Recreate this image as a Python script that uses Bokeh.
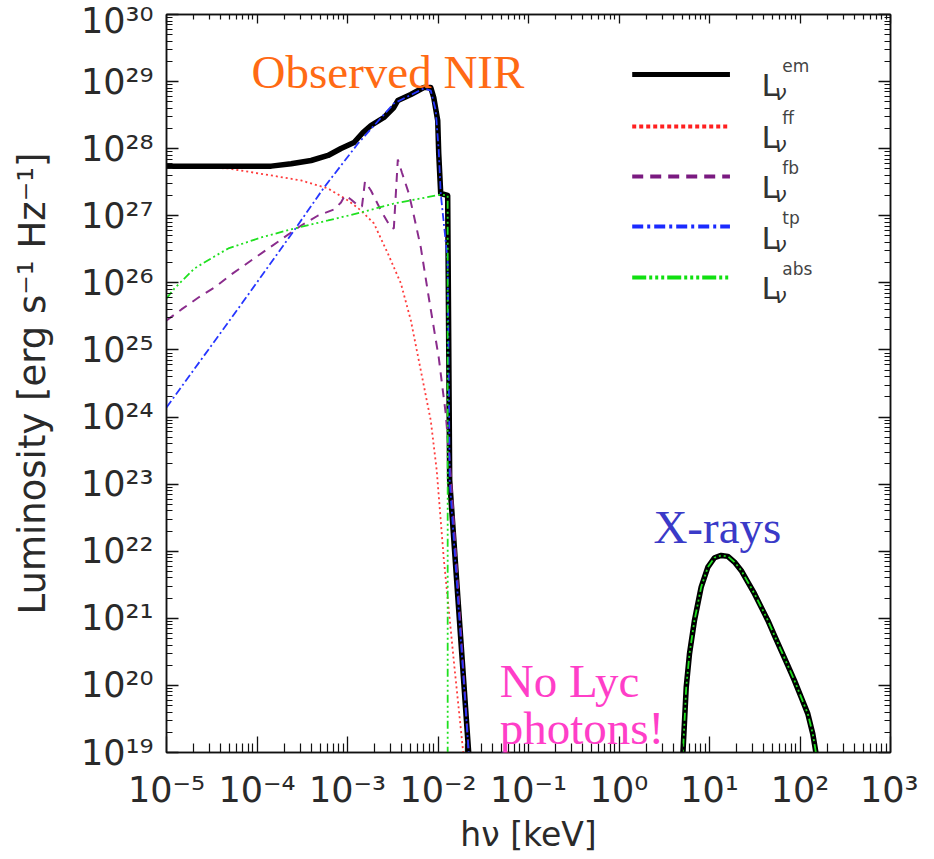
import math
from bokeh.plotting import figure
from bokeh.models import FixedTicker, LogAxis, Label, CustomJSTickFormatter, Range1d
from bokeh.embed import file_html
from bokeh.resources import INLINE

# ---------------- data (log10 values) ----------------
X_TICK_EXPONENTS = [-5, -4, -3, -2, -1, 0, 1, 2, 3]
X_TICK_LABELS = ["10⁻⁵", "10⁻⁴", "10⁻³", "10⁻²", "10⁻¹", "10⁰", "10¹", "10²", "10³"]
Y_TICK_EXPONENTS = [19, 20, 21, 22, 23, 24, 25, 26, 27, 28, 29, 30]
Y_TICK_LABELS = ["10¹⁹", "10²⁰", "10²¹", "10²²", "10²³", "10²⁴", "10²⁵",
                 "10²⁶", "10²⁷", "10²⁸", "10²⁹", "10³⁰"]

# L_nu^em (NIR part)
EM_NIR_LOGX = [-5.0, -3.843, -3.623, -3.402, -3.215, -3.072, -2.928, -2.829, -2.741,
               -2.598, -2.488, -2.444, -2.300, -2.157, -2.080, -2.047, -2.003, -1.992,
               -1.970, -1.893, -1.871, -1.661, -1.645]
EM_NIR_LOGY = [27.74, 27.74, 27.775, 27.824, 27.899, 28.003, 28.092, 28.241, 28.346,
               28.465, 28.614, 28.718, 28.808, 28.912, 28.912, 28.763, 28.420, 27.928,
               27.332, 27.303, 23.055, 19.0, 18.7]

# X-ray bump (L_nu^em and L_nu^abs coincide)
XRAY_LOGX = [0.700, 0.706, 0.743, 0.779, 0.834, 0.908, 0.982, 1.055, 1.129, 1.203,
             1.276, 1.350, 1.424, 1.497, 1.571, 1.645, 1.717, 1.791, 1.865, 1.938,
             2.012, 2.086, 2.141, 2.178, 2.215]
XRAY_LOGY = [18.7, 18.982, 19.975, 20.472, 20.969, 21.465, 21.763, 21.903, 21.937,
             21.923, 21.838, 21.714, 21.540, 21.367, 21.167, 20.969, 20.745, 20.522,
             20.298, 20.075, 19.826, 19.579, 19.280, 18.982, 18.7]

# L_nu^ff
FF_LOGX = [-5.0, -4.317, -3.843, -3.512, -3.215, -2.994, -2.851, -2.708, -2.554,
           -2.410, -2.300, -2.190, -2.080, -2.014, -1.937, -1.826, -1.727, -1.700]
FF_LOGY = [27.74, 27.705, 27.601, 27.526, 27.407, 27.228, 27.079, 26.885, 26.438,
           25.991, 25.440, 24.694, 23.949, 23.204, 21.90, 20.373, 19.076, 18.7]

# L_nu^fb
FB_LOGX = [-5.0, -4.835, -4.647, -4.471, -4.284, -3.986, -3.700, -3.512, -3.325,
           -3.149, -3.072, -3.028, -2.961, -2.873, -2.840, -2.807, -2.741, -2.631,
           -2.521, -2.488, -2.444, -2.399, -2.322, -2.267, -2.190, -2.102, -1.992,
           -1.915, -1.860, -1.661, -1.645]
FB_LOGY = [25.440, 25.604, 25.782, 25.931, 26.125, 26.408, 26.677, 26.855, 27.004,
           27.094, 27.198, 27.303, 27.243, 27.139, 27.139, 27.511, 27.377, 27.079,
           26.826, 26.811, 27.839, 27.645, 27.332, 27.004, 26.528, 25.782, 24.888,
           24.054, 23.159, 19.0, 18.7]

# L_nu^tp
TP_LOGX = [-5.0, -4.207, -3.590, -3.259, -2.884, -2.488, -2.157, -2.080, -2.025,
           -1.992, -1.970, -1.893, -1.871, -1.661, -1.645]
TP_LOGY = [24.143, 25.618, 26.781, 27.422, 28.077, 28.674, 28.897, 28.867, 28.569,
           27.973, 27.332, 26.334, 23.055, 19.0, 18.7]

# L_nu^abs (NIR part)
ABS_NIR_LOGX = [-5.0, -4.912, -4.835, -4.691, -4.471, -4.317, -3.953, -3.590, -3.215,
                -2.851, -2.488, -2.190, -1.970, -1.893, -1.893]
ABS_NIR_LOGY = [25.768, 25.917, 26.021, 26.215, 26.393, 26.513, 26.677, 26.811, 26.930,
                27.049, 27.183, 27.258, 27.317, 27.303, 18.7]

LEGEND_KEYS = ["em", "ff", "fb", "tp", "abs"]

ANNOTATIONS = ["Observed NIR", "X-rays", "No Lyc", "photons!"]


# ---------------- helpers ----------------
def lin(vals):
    return [10.0 ** v if v == v else float("nan") for v in vals]


NAN = float("nan")
em_x = lin(EM_NIR_LOGX + [NAN] + XRAY_LOGX)
em_y = lin(EM_NIR_LOGY + [NAN] + XRAY_LOGY)
abs_x = lin(ABS_NIR_LOGX + [NAN] + XRAY_LOGX)
abs_y = lin(ABS_NIR_LOGY + [NAN] + XRAY_LOGY)

AX_FONT = "DejaVu Sans"
TXT_COL = "#2a2a2a"

p = figure(
    x_axis_type="log", y_axis_type="log",
    x_range=Range1d(10.0 ** X_TICK_EXPONENTS[0], 10.0 ** X_TICK_EXPONENTS[-1]),
    y_range=Range1d(10.0 ** Y_TICK_EXPONENTS[0], 10.0 ** Y_TICK_EXPONENTS[-1]),
    frame_width=724, frame_height=738,
    min_border_left=166, min_border_right=28, min_border_top=14, min_border_bottom=91,
    output_backend="svg", toolbar_location=None,
)
p.xgrid.visible = False
p.ygrid.visible = False
p.outline_line_color = "#111111"
p.outline_line_width = 1.5
p.background_fill_color = "white"
p.border_fill_color = "white"

x_major = [10.0 ** e for e in X_TICK_EXPONENTS]
x_minor = [m * 10.0 ** e for e in X_TICK_EXPONENTS[:-1] for m in range(2, 10)]
y_major = [10.0 ** e for e in Y_TICK_EXPONENTS]
y_minor = [m * 10.0 ** e for e in Y_TICK_EXPONENTS[:-1] for m in range(2, 10)]

fmt_code = ("const i = Math.round(Math.log10(tick)) - first;"
            "return (i >= 0 && i < labels.length) ? labels[i] : '';")
x_fmt = CustomJSTickFormatter(args=dict(labels=X_TICK_LABELS, first=X_TICK_EXPONENTS[0]), code=fmt_code)
y_fmt = CustomJSTickFormatter(args=dict(labels=Y_TICK_LABELS, first=Y_TICK_EXPONENTS[0]), code=fmt_code)
blank_fmt = CustomJSTickFormatter(code="return '';")


def style_axis(ax, major_in, minor_in):
    ax.major_tick_in = major_in
    ax.major_tick_out = 0
    ax.minor_tick_in = minor_in
    ax.minor_tick_out = 0
    ax.axis_line_color = "#111111"
    ax.axis_line_width = 1.5
    ax.major_tick_line_color = "#111111"
    ax.minor_tick_line_color = "#111111"
    ax.major_tick_line_width = 1.3
    ax.minor_tick_line_width = 1.2


xax = p.xaxis[0]
xax.ticker = FixedTicker(ticks=x_major, minor_ticks=x_minor)
xax.formatter = x_fmt
style_axis(xax, 16, 9)
xax.major_label_text_font = AX_FONT
xax.major_label_text_font_size = "35px"
xax.major_label_text_color = TXT_COL
xax.major_label_standoff = 17
xax.axis_label = "hν [keV]"
xax.axis_label_text_font = AX_FONT
xax.axis_label_text_font_size = "33px"
xax.axis_label_text_font_style = "normal"
xax.axis_label_text_color = TXT_COL
xax.axis_label_standoff = 2

yax = p.yaxis[0]
yax.ticker = FixedTicker(ticks=y_major, minor_ticks=y_minor)
yax.formatter = y_fmt
style_axis(yax, 12, 6)
yax.major_label_text_font = AX_FONT
yax.major_label_text_font_size = "35px"
yax.major_label_text_color = TXT_COL
yax.major_label_standoff = 13
yax.axis_label = "Luminosity [erg s⁻¹ Hz⁻¹]"
yax.axis_label_text_font = AX_FONT
yax.axis_label_text_font_size = "37px"
yax.axis_label_text_font_style = "normal"
yax.axis_label_text_color = TXT_COL
yax.axis_label_standoff = 24

top_ax = LogAxis(ticker=FixedTicker(ticks=x_major, minor_ticks=x_minor), formatter=blank_fmt)
style_axis(top_ax, 9, 5)
top_ax.major_label_standoff = 0
p.add_layout(top_ax, "above")
right_ax = LogAxis(ticker=FixedTicker(ticks=y_major, minor_ticks=y_minor), formatter=blank_fmt)
style_axis(right_ax, 12, 6)
right_ax.major_label_standoff = 0
p.add_layout(right_ax, "right")

# ---------------- curves ----------------
RED, PURPLE, BLUE, GREEN = "#ff3c3c", "#8a2c8c", "#2636ff", "#1fe01f"

p.line(lin(FF_LOGX), lin(FF_LOGY), line_color=RED, line_width=1.8, line_dash="2 3")
p.line(em_x, em_y, line_color="black", line_width=5.5, line_join="round", line_cap="round")
p.line(lin(FB_LOGX), lin(FB_LOGY), line_color=PURPLE, line_width=2, line_dash="9 7")
p.line(lin(TP_LOGX), lin(TP_LOGY), line_color=BLUE, line_width=1.8, line_dash="8 3 2 3")
p.line(abs_x, abs_y, line_color=GREEN, line_width=1.8, line_dash="8 3 2 3 2 3 2 3")

# ---------------- legend (drawn by hand, in the upper right) ----------------
LEG_LX = (0.146, 1.226)
LEG_LY = [29.106, 28.331, 27.586, 26.840, 26.080]
LEG_STYLE = [
    dict(line_color="black", line_width=5, line_dash="solid"),
    dict(line_color="#ff2020", line_width=4, line_dash="4 3"),
    dict(line_color="#7a1a80", line_width=4, line_dash="11 7"),
    dict(line_color="#1a2aff", line_width=4, line_dash="11 4 3 4"),
    dict(line_color="#10e010", line_width=4, line_dash="14 3 3 3 3 3 3 3"),
]
for key, ly, st in zip(LEGEND_KEYS, LEG_LY, LEG_STYLE):
    p.line([10.0 ** LEG_LX[0], 10.0 ** LEG_LX[1]], [10.0 ** ly, 10.0 ** ly], **st)
    p.add_layout(Label(x=10.0 ** 1.575, y=10.0 ** (ly - 0.164), text="L",
                       text_font=AX_FONT, text_font_size="31px", text_color="#333333",
                       text_baseline="alphabetic", text_align="left"))
    p.add_layout(Label(x=10.0 ** 1.805, y=10.0 ** (ly + 0.125), text=key,
                       text_font=AX_FONT, text_font_size="17px", text_color="#444444",
                       text_baseline="alphabetic", text_align="left"))
    p.add_layout(Label(x=10.0 ** 1.722, y=10.0 ** (ly - 0.283), text="ν",
                       text_font=AX_FONT, text_font_size="21px", text_color="#333333",
                       text_font_style="italic",
                       text_baseline="alphabetic", text_align="left"))

# ---------------- annotations ----------------
SERIF = "Liberation Serif"
ann_pos = [(-4.060, 29.15, "#ff6a14"), (0.380, 22.355, "#3a3ac8"),
           (-1.318, 20.07, "#ff3ec8"), (-1.318, 19.36, "#ff3ec8")]
for txt, (lx, ly, col) in zip(ANNOTATIONS, ann_pos):
    p.add_layout(Label(x=10.0 ** lx, y=10.0 ** ly, text=txt, text_font=SERIF,
                       text_font_size="47px", text_color=col,
                       text_baseline="alphabetic", text_align="left"))

open("out.html", "w").write(file_html(p, INLINE))
